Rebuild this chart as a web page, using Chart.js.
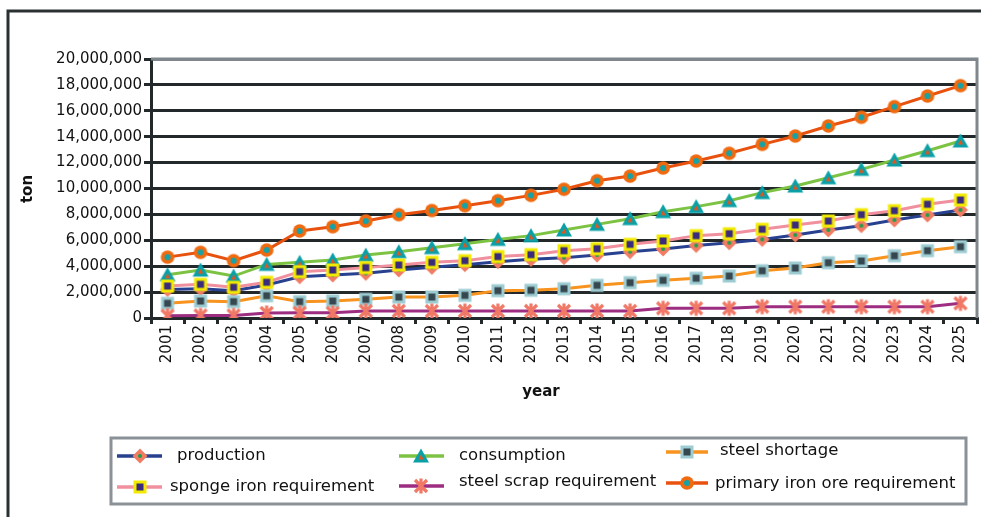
<!DOCTYPE html>
<html>
<head>
<meta charset="utf-8">
<title>Steel demand and supply forecast</title>
<script src="https://cdn.jsdelivr.net/npm/chart.js@4.4.1/dist/chart.umd.min.js"></script>
<style>
  html, body { margin: 0; padding: 0; background: #fff; }
  #wrap { width: 981px; height: 517px; }
</style>
</head>
<body>
<div id="wrap"><canvas id="steelChart" width="981" height="517"></canvas></div>
<script>
// years on the x axis
const years = ['2001', '2002', '2003', '2004', '2005', '2006', '2007', '2008', '2009', '2010',
  '2011', '2012', '2013', '2014', '2015', '2016', '2017', '2018', '2019', '2020',
  '2021', '2022', '2023', '2024', '2025'];

// tonnes per year
const production = [2200000, 2260000, 2110000, 2550000, 3190000, 3320000, 3450000, 3710000, 3910000, 4120000,
  4350000, 4530000, 4660000, 4860000, 5120000, 5330000, 5600000, 5810000, 6070000, 6410000,
  6800000, 7130000, 7570000, 7950000, 8340000];
const consumption = [3340000, 3700000, 3240000, 4140000, 4300000, 4480000, 4860000, 5120000, 5430000, 5740000,
  6070000, 6360000, 6800000, 7230000, 7670000, 8210000, 8600000, 9060000, 9680000, 10190000,
  10830000, 11480000, 12200000, 12920000, 13670000];
const steelShortage = [1130000, 1310000, 1260000, 1720000, 1260000, 1310000, 1440000, 1620000, 1620000, 1750000,
  2110000, 2140000, 2260000, 2520000, 2730000, 2910000, 3070000, 3240000, 3650000, 3860000,
  4270000, 4400000, 4810000, 5200000, 5510000];
const spongeIron = [2470000, 2600000, 2370000, 2760000, 3580000, 3710000, 3890000, 4090000, 4300000, 4430000,
  4740000, 4890000, 5200000, 5350000, 5690000, 5950000, 6360000, 6510000, 6850000, 7180000,
  7490000, 7980000, 8290000, 8780000, 9110000];
const steelScrap = [180000, 200000, 200000, 390000, 400000, 400000, 540000, 550000, 540000, 540000,
  540000, 550000, 550000, 550000, 550000, 750000, 750000, 750000, 870000, 870000,
  870000, 870000, 870000, 870000, 1130000];
const primaryOre = [4700000, 5070000, 4430000, 5250000, 6720000, 7050000, 7490000, 7980000, 8300000, 8670000,
  9060000, 9470000, 9940000, 10600000, 10960000, 11580000, 12120000, 12720000, 13410000, 14050000,
  14830000, 15500000, 16320000, 17140000, 17940000];

// y axis range
const yMax = 20000000;
const yStep = 2000000;

const seriesNames = ['production', 'consumption', 'steel shortage',
  'sponge iron requirement', 'steel scrap requirement', 'primary iron ore requirement'];
const seriesData = [production, consumption, steelShortage, spongeIron, steelScrap, primaryOre];

// two-colour markers, painted once on small canvases and used as pointStyle
function makeMarker(kind, outer, inner) {
  const c = document.createElement('canvas');
  c.width = 18;
  c.height = 18;
  const g = c.getContext('2d');
  g.translate(9, 9);
  g.fillStyle = outer;
  g.beginPath();
  if (kind === 'diamond') {
    g.moveTo(0, -7.5); g.lineTo(7.5, 0); g.lineTo(0, 7.5); g.lineTo(-7.5, 0); g.closePath(); g.fill();
    g.fillStyle = inner;
    g.beginPath(); g.arc(0, 0, 2, 0, Math.PI * 2); g.fill();
  } else if (kind === 'triangle') {
    g.moveTo(0, -7.5); g.lineTo(8, 6.5); g.lineTo(-8, 6.5); g.closePath(); g.fill();
    g.fillStyle = inner;
    g.beginPath(); g.moveTo(0, -1.5); g.lineTo(2.5, 3.5); g.lineTo(-2.5, 3.5); g.closePath(); g.fill();
  } else if (kind === 'square') {
    g.fillRect(-6.5, -6.5, 13, 13);
    g.fillStyle = inner;
    g.fillRect(-3.5, -3.5, 7, 7);
  } else if (kind === 'circle') {
    g.arc(0, 0, 6.8, 0, Math.PI * 2); g.fill();
    g.fillStyle = inner;
    g.beginPath(); g.arc(0, 0, 3, 0, Math.PI * 2); g.fill();
  } else if (kind === 'asterisk') {
    g.strokeStyle = outer;
    g.lineWidth = 3.2;
    g.lineCap = 'butt';
    g.moveTo(-6, -6); g.lineTo(6, 6);
    g.moveTo(6, -6); g.lineTo(-6, 6);
    g.moveTo(0, -7.5); g.lineTo(0, 7.5);
    g.stroke();
  }
  return c;
}

const lineColors = ['#27408f', '#7cc243', '#f7931e', '#f0909f', '#9c2d80', '#e8520e'];
const markers = [
  makeMarker('diamond', '#f07c64', '#1e9e4a'),
  makeMarker('triangle', '#0aa0a8', '#e8531a'),
  makeMarker('square', '#9dcdd3', '#37474f'),
  makeMarker('square', '#f2ea00', '#3a2b7d'),
  makeMarker('asterisk', '#f07866', null),
  makeMarker('circle', '#f06a10', '#13a3a8')
];

const datasets = seriesNames.map((name, i) => ({
  label: name,
  data: seriesData[i],
  borderColor: lineColors[i],
  backgroundColor: lineColors[i],
  borderWidth: 3,
  pointStyle: markers[i],
  pointRadius: 7,
  pointHoverRadius: 7,
  tension: 0,
  fill: false,
  order: seriesNames.length - i   // later series sit on top
}));

// legend slots: sample line, marker and text placement
const legendSlots = [
  { x0: 117, x1: 162, mx: 140, ly: 456, tx: 177, ty: 456 },
  { x0: 399, x1: 444, mx: 421, ly: 456, tx: 459, ty: 456 },
  { x0: 666, x1: 708, mx: 687, ly: 452, tx: 720, ty: 451 },
  { x0: 117, x1: 162, mx: 140, ly: 487, tx: 170, ty: 487 },
  { x0: 399, x1: 444, mx: 421, ly: 486, tx: 459, ty: 482 },
  { x0: 666, x1: 708, mx: 687, ly: 483, tx: 715, ty: 484 }
];

const framePlugin = {
  id: 'frame',
  beforeDraw(chart) {
    const ctx = chart.ctx;
    ctx.save();
    ctx.fillStyle = '#fff';
    ctx.fillRect(0, 0, chart.width, chart.height);
    // outer frame, open at right and bottom
    ctx.strokeStyle = '#2b3033';
    ctx.lineWidth = 3;
    ctx.beginPath();
    ctx.moveTo(8, chart.height);
    ctx.lineTo(8, 11);
    ctx.lineTo(chart.width, 11);
    ctx.stroke();
    ctx.restore();
  },
  beforeDatasetsDraw(chart) {
    const { ctx, chartArea: a } = chart;
    ctx.save();
    ctx.strokeStyle = '#7f878d';
    ctx.lineWidth = 3;
    ctx.beginPath();
    ctx.moveTo(a.left, a.top);
    ctx.lineTo(a.right, a.top);
    ctx.lineTo(a.right, a.bottom);
    ctx.stroke();
    ctx.restore();
  },
  afterDraw(chart) {
    const ctx = chart.ctx;
    ctx.save();
    // axis titles
    ctx.fillStyle = '#111';
    ctx.font = 'bold 15px "DejaVu Sans"';
    ctx.textAlign = 'center';
    ctx.textBaseline = 'middle';
    ctx.fillText('year', 541, 392);
    ctx.translate(28, 189);
    ctx.rotate(-Math.PI / 2);
    ctx.fillText('ton', 0, 0);
    ctx.restore();

    // legend box
    ctx.save();
    ctx.strokeStyle = '#8a9197';
    ctx.lineWidth = 3;
    ctx.strokeRect(111, 438, 855, 66);
    ctx.font = '16.5px "DejaVu Sans"';
    ctx.textAlign = 'left';
    ctx.textBaseline = 'middle';
    chart.data.datasets.forEach((ds, i) => {
      const s = legendSlots[i];
      ctx.strokeStyle = ds.borderColor;
      ctx.lineWidth = 3.5;
      ctx.beginPath();
      ctx.moveTo(s.x0, s.ly);
      ctx.lineTo(s.x1, s.ly);
      ctx.stroke();
      const m = ds.pointStyle;
      ctx.drawImage(m, s.mx - m.width / 2, s.ly - m.height / 2);
      ctx.fillStyle = '#111';
      ctx.fillText(ds.label, s.tx, s.ty);
    });
    ctx.restore();
  }
};

Chart.defaults.font.family = '"DejaVu Sans", sans-serif';
Chart.defaults.font.size = 15;
Chart.defaults.color = '#111';

new Chart(document.getElementById('steelChart'), {
  type: 'line',
  data: { labels: years, datasets: datasets },
  options: {
    responsive: false,
    animation: false,
    devicePixelRatio: 1,
    layout: { autoPadding: false, padding: { left: 10, top: 59, right: 4, bottom: 0 } },
    plugins: {
      legend: { display: false },
      tooltip: { enabled: false }
    },
    scales: {
      x: {
        type: 'category',
        offset: true,
        grid: {
          display: true,
          offset: true,
          drawOnChartArea: false,
          drawTicks: true,
          tickLength: 6,
          lineWidth: 3,
          color: '#23282b'
        },
        border: { display: true, color: '#23282b', width: 3 },
        ticks: {
          autoSkip: false,
          minRotation: 90,
          maxRotation: 90,
          padding: 1,
          font: { size: 15 }
        },
        afterFit(scale) {
          scale.height = 199;
          scale.paddingLeft = 0;
          scale.paddingRight = 0;
        }
      },
      y: {
        min: 0,
        max: yMax,
        grid: {
          lineWidth: 3,
          color: (c) => (c.tick && c.tick.value === yMax ? '#7f878d' : '#23282b'),
          tickColor: '#23282b',
          tickLength: 7
        },
        border: { display: true, color: '#23282b', width: 3 },
        ticks: {
          stepSize: yStep,
          padding: 2,
          font: { size: 15 },
          callback: (v) => v.toLocaleString('en-US')
        },
        afterFit(scale) { scale.width = 141; }
      }
    }
  },
  plugins: [framePlugin]
});
</script>
</body>
</html>
